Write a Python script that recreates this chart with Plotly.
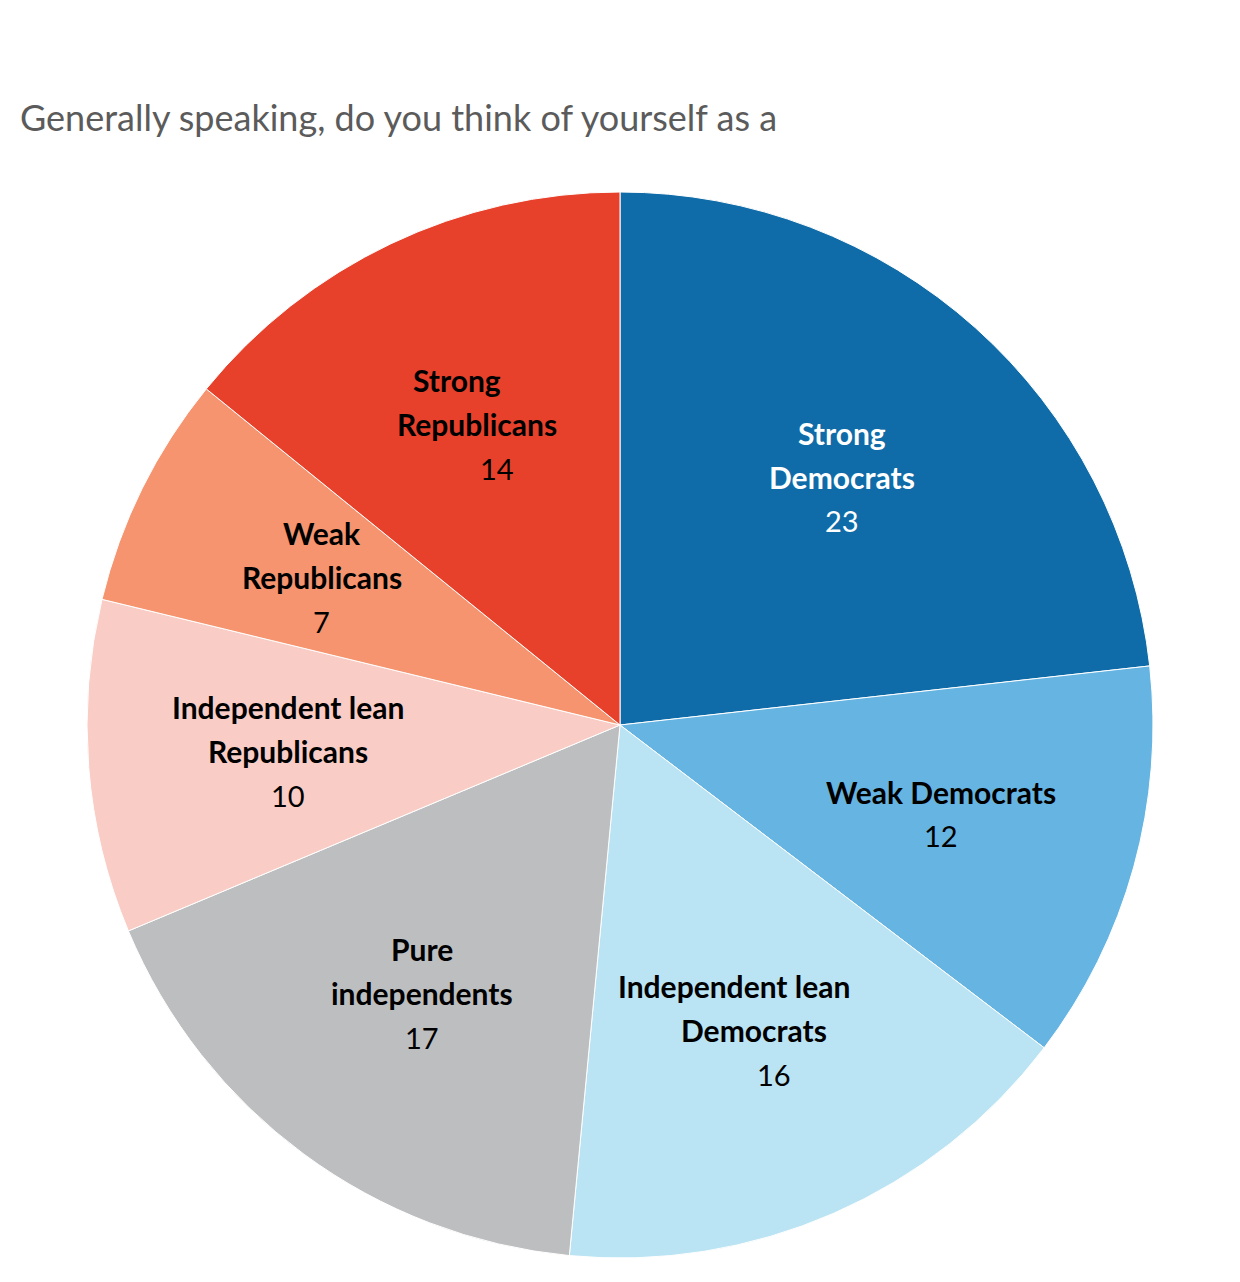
import numpy as np
import plotly.graph_objects as go

# party identification shares (%), clockwise from 12 o'clock
categories = [
    "Strong<br>Democrats",
    "Weak Democrats",
    "Independent lean<br>Democrats",
    "Pure<br>independents",
    "Independent lean<br>Republicans",
    "Weak<br>Republicans",
    "Strong<br>Republicans",
]
values = [23, 12, 16, 17, 10, 7, 14]
colors = ["#0f6ca8", "#66b4e2", "#bae3f3", "#bdbec0", "#f9cdc5", "#f5946e", "#e8412b"]
text_colors = ["white", "black", "black", "black", "black", "black", "black"]
# sideways step between label lines (px), the reference staggers two of them
line_skew = [0, 0, 20, 0, 0, 0, 20]

W, H = 1240, 1282
# page body has an 8px margin, so positions are relative to the plot's own corner
CX, CY, R = 612, 717, 533
LINE = 44
FONT = "Lato, 'Open Sans', sans-serif"

fig = go.Figure(go.Pie(
    labels=[c.replace("<br>", " ") for c in categories],
    values=values,
    sort=False,
    direction="clockwise",
    rotation=0,
    marker=dict(colors=colors, line=dict(color="white", width=1)),
    textinfo="none",
    hoverinfo="label+value",
    domain=dict(x=[(CX - R) / W, (CX + R) / W], y=[1 - (CY + R) / H, 1 - (CY - R) / H]),
))

# labels at the middle of each slice, 0.625 of the radius out
vals = np.array(values, dtype=float)
ends = np.cumsum(vals) / vals.sum() * 2 * np.pi
mids = ends - vals / vals.sum() * np.pi
annotations = []
for name, v, ang, tc, sk in zip(categories, values, mids, text_colors, line_skew):
    px = CX + 0.625 * R * np.sin(ang)
    py = CY - 0.625 * R * np.cos(ang)
    lines = ["<b>%s</b>" % s for s in name.split("<br>")] + [str(v)]
    n = len(lines)
    for i, s in enumerate(lines):
        annotations.append(dict(
            x=px / W, y=1 - py / H, xref="paper", yref="paper",
            text=s, showarrow=False, xanchor="center", yanchor="middle",
            yshift=((n - 1) / 2 - i) * LINE,
            xshift=(i - (n - 1) / 2) * sk,
            font=dict(family=FONT, size=30 if i < n - 1 else 29, color=tc),
        ))

fig.update_layout(
    width=W, height=H,
    margin=dict(l=0, r=0, t=0, b=0),
    paper_bgcolor="white",
    showlegend=False,
    title=dict(
        text="Generally speaking, do you think of yourself as a",
        x=12 / W, xanchor="left", xref="paper",
        y=1 - 110 / H, yanchor="middle", yref="container",
        font=dict(family=FONT, size=36, color="#5b5b5b"),
    ),
    annotations=annotations,
)

fig.write_html("out.html")
